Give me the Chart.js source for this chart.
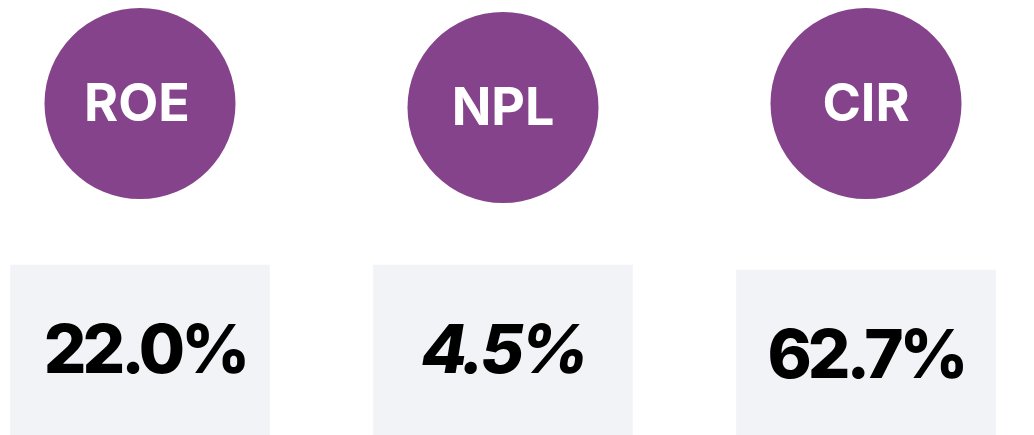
<!DOCTYPE html>
<html>
<head>
<meta charset="utf-8">
<script src="https://cdn.jsdelivr.net/npm/chart.js@4/dist/chart.umd.min.js"></script>
<style>
  html, body { margin: 0; padding: 0; background: #ffffff; }
  #kpiChart { display: block; }
</style>
</head>
<body>
<canvas id="kpiChart" width="1034" height="435"></canvas>
<script>
// KPI data
const kpiLabels = ['ROE', 'NPL', 'CIR'];
const kpiValues = [22.0, 4.5, 62.7];
const kpiItalic = [false, true, false];

// layout (vertical positions on a 0..435 layout axis, top = 0)
const circleCenters = [103.5, 107.5, 103.5];
const boxTops = [265, 265, 270];
const boxBottom = 435;

const purple = '#84438a';
const boxGrey = '#f2f3f7';

const kpiTextPlugin = {
    id: 'kpiText',
    afterDatasetsDraw(chart) {
        const ctx = chart.ctx;
        const x = chart.scales.x;
        const y = chart.scales.y;
        ctx.save();
        ctx.textAlign = 'center';
        ctx.textBaseline = 'alphabetic';
        kpiLabels.forEach((label, i) => {
            const px = x.getPixelForValue(i);
            // circle label
            ctx.fillStyle = '#ffffff';
            ctx.font = '700 52px Inter';
            ctx.letterSpacing = '0px';
            ctx.fillText(label, px - (i === 0 ? 3 : 0), y.getPixelForValue(circleCenters[i]) + 17);
            // value in box
            ctx.fillStyle = '#000000';
            ctx.font = (kpiItalic[i] ? 'italic ' : '') + '800 67px Inter';
            ctx.letterSpacing = '-4px';
            ctx.fillText(kpiValues[i].toFixed(1) + '%', px + (i === 0 ? 5 : 0), y.getPixelForValue(boxTops[i]) + 108);
        });
        ctx.restore();
    }
};

new Chart(document.getElementById('kpiChart'), {
    type: 'bar',
    data: {
        labels: kpiLabels,
        datasets: [{
            type: 'line',
            data: circleCenters,
            showLine: false,
            pointRadius: 95.5,
            pointHoverRadius: 95.5,
            pointBackgroundColor: purple,
            pointBorderWidth: 0,
            clip: false
        }, {
            type: 'bar',
            data: boxTops.map(t => [t, boxBottom]),
            backgroundColor: boxGrey,
            borderWidth: 0,
            barThickness: 259,
            clip: false
        }]
    },
    options: {
        responsive: false,
        devicePixelRatio: 1,
        animation: false,
        layout: { autoPadding: false, padding: { left: 140, right: 168, top: 0, bottom: 0 } },
        plugins: { legend: { display: false }, tooltip: { enabled: false } },
        scales: {
            x: { display: false, offset: false },
            y: { display: false, min: 0, max: 435, reverse: true }
        }
    },
    plugins: [kpiTextPlugin]
});
</script>
</body>
</html>
